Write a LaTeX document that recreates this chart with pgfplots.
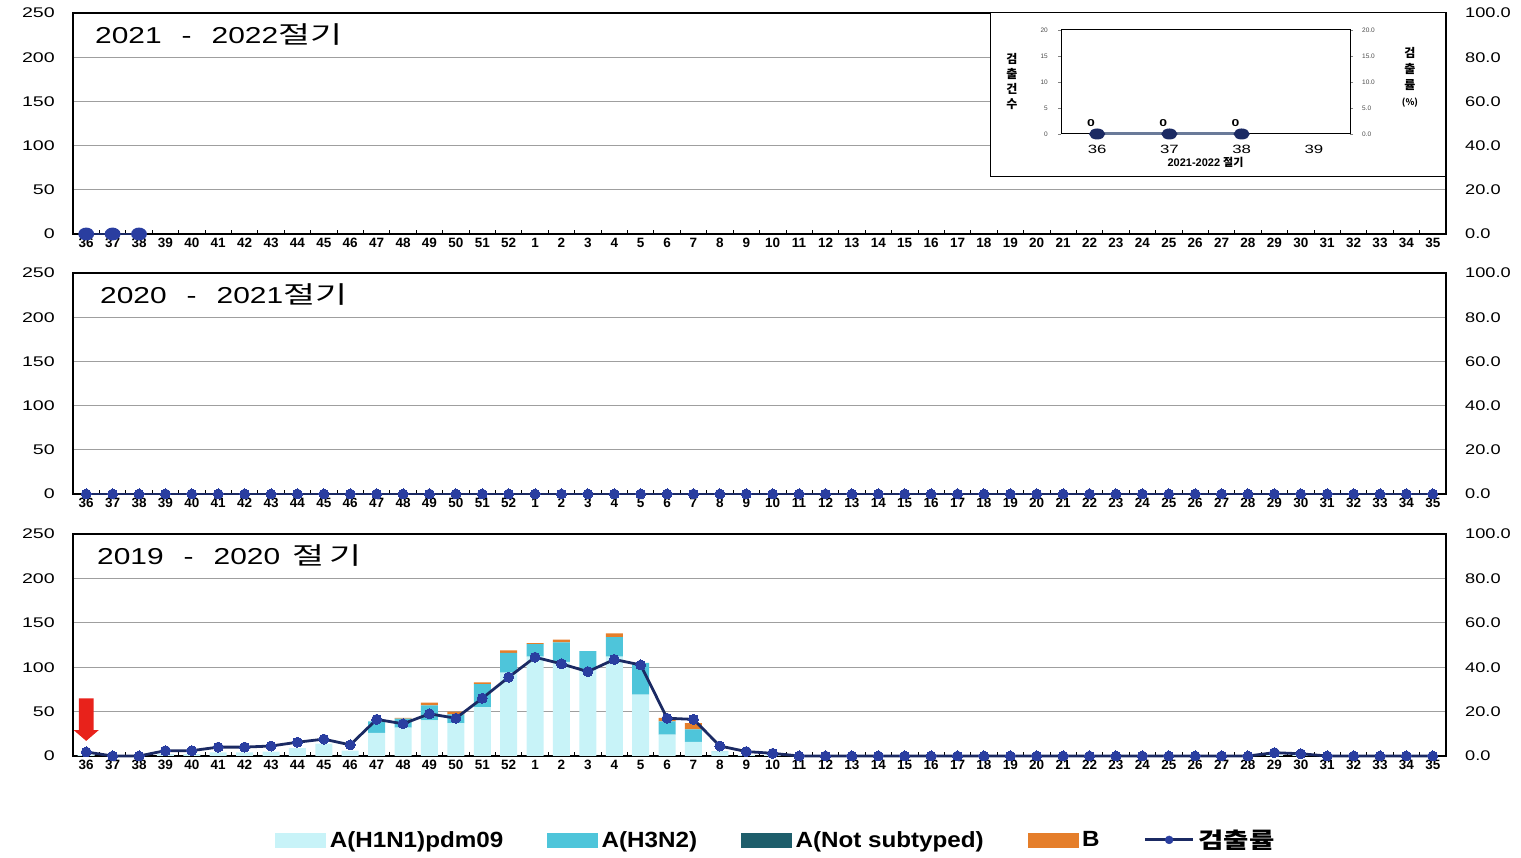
\documentclass[border=0pt]{standalone}
\usepackage{fontspec}
\usepackage{pgfplots}
\usepackage{pgfplotstable}
\pgfplotsset{compat=1.18}
\setmainfont{Liberation Sans}
\newfontfamily\wide[FakeStretch=1.4]{Liberation Sans}
\newfontfamily\wider[FakeStretch=1.3]{Liberation Sans}
\newfontfamily\titlefont[FakeStretch=1.3]{Liberation Sans}
\newfontfamily\legfont[FakeStretch=1.1]{Liberation Sans}
\newfontfamily\kr{Noto Sans CJK KR}
\newfontfamily\krwide[FakeStretch=1.25]{Noto Sans CJK KR}
\newfontfamily\krtitle[FakeStretch=1.45]{Noto Sans CJK KR}

\definecolor{hone}{HTML}{C8F3F8}
\definecolor{hthree}{HTML}{4EC5DA}
\definecolor{nosub}{HTML}{1E5E6B}
\definecolor{bcol}{HTML}{E57E2A}
\definecolor{lineC}{HTML}{1B2A63}
\definecolor{markC}{HTML}{2A3EA0}
\definecolor{insetline}{HTML}{6A7A99}
\definecolor{redarrow}{HTML}{E8221B}

\pgfplotstableread{
x h1 h3 ns b rate
0 1 0 0 0 1.8
1 0 0 0 0 0
2 0 0 0 0 0
3 2 0 0 0 2.4
4 2 0 0 0 2.4
5 4 0 0 0 4.0
6 4 0 0 0 4.0
7 5 0 0 0 4.5
8 9 0 0 0 6.2
9 14 0 0 0 7.6
10 6 0 0 0 5.0
11 26 13 0 0 16.5
12 32 10 0 1 14.5
13 40 17 0 3 19.0
14 37 10 0 3 17.0
15 55 26 0 2 26.0
16 94 22 0 3 35.5
17 112 14 0 1 44.5
18 106 22 0 3 41.5
19 98 20 0 0 38.0
20 112 22 0 4 43.5
21 69 36 0 0 41.0
22 24 15 0 4 17.0
23 16 14 0 7 16.5
24 4 1 0 0 4.5
25 1 0 0 0 2.0
26 1 0 0 0 1.2
27 0 0 0 0 0
28 0 0 0 0 0
29 0 0 0 0 0
30 0 0 0 0 0
31 0 0 0 0 0
32 0 0 0 0 0
33 0 0 0 0 0
34 0 0 0 0 0
35 0 0 0 0 0
36 0 0 0 0 0
37 0 0 0 0 0
38 0 0 0 0 0
39 0 0 0 0 0
40 0 0 0 0 0
41 0 0 0 0 0
42 0 0 0 0 0
43 0 0 0 0 0
44 0 0 0 0 0
45 1 0 0 0 1.5
46 1 0 0 0 1.0
47 0 0 0 0 0
48 0 0 0 0 0
49 0 0 0 0 0
50 0 0 0 0 0
51 0 0 0 0 0
}\seasonC

\pgfplotsset{
  panelL/.style={
    scale only axis, width=1373pt, height=221pt,
    xmin=-0.5, xmax=51.5, ymin=0, ymax=250,
    ytick={0,50,...,250},
    xtick={0,...,51},
    xticklabels={36,37,38,39,40,41,42,43,44,45,46,47,48,49,50,51,52,1,2,3,4,5,6,7,8,9,10,11,12,13,14,15,16,17,18,19,20,21,22,23,24,25,26,27,28,29,30,31,32,33,34,35},
    minor xtick={0.5,1.5,...,50.5},
    minor tick length=4pt, major tick length=0pt,
    tick align=inside, xtick pos=bottom, ytick pos=left,
    ytick style={draw=none},
    minor tick style={line width=0.8pt, black},
    ymajorgrids, major grid style={gray!75, line width=0.9pt},
    axis line style={line width=1.3pt, black},
    /pgf/number format/assume math mode=true,
    xticklabel style={font=\fontsize{13.5}{14}\selectfont\bfseries, inner sep=0pt, yshift=-4pt},
    yticklabel style={font=\fontsize{14}{14}\selectfont\wide, inner sep=0pt, xshift=-18pt},
  },
  panelR/.style={
    scale only axis, width=1373pt, height=221pt,
    xmin=-0.5, xmax=51.5, ymin=0, ymax=100,
    axis y line*=right, axis x line=none,
    ytick={0,20,...,100}, ytick style={draw=none},
    axis line style={line width=1.3pt, black},
    clip=false,
    /pgf/number format/assume math mode=true,
    yticklabel style={font=\fontsize{14}{14}\selectfont\wider, inner sep=0pt, xshift=19pt,
      /pgf/number format/fixed, /pgf/number format/fixed zerofill, /pgf/number format/precision=1},
  },
  rateline/.style={color=lineC, line width=2.8pt, mark=*, mark size=5pt,
    mark options={fill=markC, draw=markC, line width=0pt}},
}

\begin{document}
\begin{tikzpicture}
\useasboundingbox (0,0) rectangle (1521pt,858pt);

% ---------------- top panel: 2021-2022 ----------------
\begin{axis}[panelL, at={(73pt,624pt)}, anchor=south west]
\end{axis}
\draw[fill=white, line width=1pt] (990pt,681pt) rectangle (1446pt,845pt);
\begin{axis}[panelR, at={(73pt,624pt)}, anchor=south west]
\addplot[rateline, mark options={xscale=1.3, fill=markC, draw=markC}] coordinates {(0,0) (1,0) (2,0)};
\end{axis}

% inset
\begin{axis}[scale only axis, width=289pt, height=104pt, at={(1061pt,724pt)}, anchor=south west,
  xmin=-0.5, xmax=3.5, ymin=0, ymax=20, ytick={0,5,...,20},
  xtick={0,1,2,3}, xticklabels={36,37,38,39}, xtick style={draw=none},
  ytick pos=left, tick align=outside, major tick length=3pt,
  ytick style={line width=0.5pt, gray},
  axis line style={line width=1pt, black}, clip=false,
  /pgf/number format/assume math mode=true,
  xticklabel style={font=\fontsize{12}{12}\selectfont\wide, inner sep=0pt, yshift=-8pt},
  yticklabel style={font=\fontsize{6.5}{7}\selectfont, inner sep=0pt, xshift=-10pt, gray!60!black},
  xlabel={2021-2022 {\kr 절기}}, xlabel style={font=\fontsize{11}{11}\selectfont\bfseries, inner sep=0pt, yshift=-3pt},
  nodes near coords, nodes near coords style={font=\fontsize{10}{10}\selectfont\wide\bfseries, black, xshift=-6pt, yshift=3pt},
]
\addplot[color=insetline, line width=3pt, mark=*, mark size=4pt,
  mark options={xscale=1.6, fill=lineC, draw=lineC}] coordinates {(0,0) (1,0) (2,0)};
\end{axis}
\begin{axis}[scale only axis, width=289pt, height=104pt, at={(1061pt,724pt)}, anchor=south west,
  xmin=-0.5, xmax=3.5, ymin=0, ymax=20, ytick={0,5,...,20},
  axis y line*=right, axis x line=none, tick align=outside, major tick length=3pt,
  ytick style={line width=0.5pt, gray},
  axis line style={line width=1pt, black},
  /pgf/number format/assume math mode=true,
  yticklabel style={font=\fontsize{6.5}{7}\selectfont, inner sep=0pt, xshift=9pt, gray!60!black,
    /pgf/number format/fixed, /pgf/number format/fixed zerofill, /pgf/number format/precision=1},
]
\end{axis}
\node[align=center, font=\fontsize{12}{15}\selectfont\kr\bfseries] at (1012pt,776pt) {검\\출\\건\\수};
\node[align=center, font=\fontsize{12}{16}\selectfont\kr\bfseries] at (1410pt,781pt) {검\\출\\률\\{\fontsize{9}{9}\selectfont (\%)}};

% ---------------- middle panel: 2020-2021 ----------------
\begin{axis}[panelL, at={(73pt,364pt)}, anchor=south west]
\end{axis}
\begin{axis}[panelR, at={(73pt,364pt)}, anchor=south west]
\addplot[rateline] coordinates {(0,0) (1,0) (2,0) (3,0) (4,0) (5,0) (6,0) (7,0) (8,0) (9,0) (10,0) (11,0) (12,0) (13,0) (14,0) (15,0) (16,0) (17,0) (18,0) (19,0) (20,0) (21,0) (22,0) (23,0) (24,0) (25,0) (26,0) (27,0) (28,0) (29,0) (30,0) (31,0) (32,0) (33,0) (34,0) (35,0) (36,0) (37,0) (38,0) (39,0) (40,0) (41,0) (42,0) (43,0) (44,0) (45,0) (46,0) (47,0) (48,0) (49,0) (50,0) (51,0)};
\end{axis}

% ---------------- bottom panel: 2019-2020 ----------------
\begin{axis}[panelL, at={(73pt,102pt)}, anchor=south west, height=222pt,
  ybar stacked, bar width=17pt]
\addplot[fill=hone, draw=none] table[x=x, y=h1] {\seasonC};
\addplot[fill=hthree, draw=none] table[x=x, y=h3] {\seasonC};
\addplot[fill=nosub, draw=none] table[x=x, y=ns] {\seasonC};
\addplot[fill=bcol, draw=none] table[x=x, y=b] {\seasonC};
\fill[redarrow] (axis cs:-0.28,65) -- (axis cs:0.28,65) -- (axis cs:0.28,29) -- (axis cs:0.47,29)
  -- (axis cs:0,17) -- (axis cs:-0.47,29) -- (axis cs:-0.28,29) -- cycle;
\end{axis}
\begin{axis}[panelR, at={(73pt,102pt)}, anchor=south west, height=222pt,
  legend style={at={(0.512,-0.378)}, anchor=center, legend columns=5, draw=none, fill=none,
    font=\fontsize{22}{24}\selectfont\legfont\bfseries,
    /tikz/every even column/.append style={column sep=42pt},
    /tikz/every odd column/.append style={column sep=2pt}},
  legend cell align=left]
\addlegendimage{legend image code/.code={\fill[hone] (0pt,-7pt) rectangle (50pt,7pt);}}
\addlegendentry{A(H1N1)pdm09}
\addlegendimage{legend image code/.code={\fill[hthree] (0pt,-7pt) rectangle (50pt,7pt);}}
\addlegendentry{A(H3N2)}
\addlegendimage{legend image code/.code={\fill[nosub] (0pt,-7pt) rectangle (50pt,7pt);}}
\addlegendentry{A(Not subtyped)}
\addlegendimage{legend image code/.code={\fill[bcol] (0pt,-7pt) rectangle (50pt,7pt);}}
\addlegendentry{B}
\addlegendimage{legend image code/.code={\draw[lineC, line width=3pt] (0pt,0pt) -- (48pt,0pt); \fill[markC] (24pt,0pt) circle (4pt);}}
\addlegendentry{{\krwide 검출률}}
\addplot[rateline, forget plot] table[x=x, y=rate] {\seasonC};
\end{axis}

% ---------------- titles ----------------
\node[anchor=west, inner sep=0pt, font=\fontsize{23}{23}\selectfont\titlefont] at (95pt,823pt)
  {2021\hspace{20pt}-\hspace{20pt}2022{\fontsize{24}{24}\selectfont\krtitle 절기}};
\node[anchor=west, inner sep=0pt, font=\fontsize{23}{23}\selectfont\titlefont] at (100pt,563pt)
  {2020\hspace{20pt}-\hspace{20pt}2021{\fontsize{24}{24}\selectfont\krtitle 절기}};
\node[anchor=west, inner sep=0pt, font=\fontsize{23}{23}\selectfont\titlefont] at (97pt,302pt)
  {2019\hspace{20pt}-\hspace{20pt}2020\hspace{12pt}{\fontsize{24}{24}\selectfont\krtitle 절\hspace{5pt}기}};
\end{tikzpicture}
\end{document}
